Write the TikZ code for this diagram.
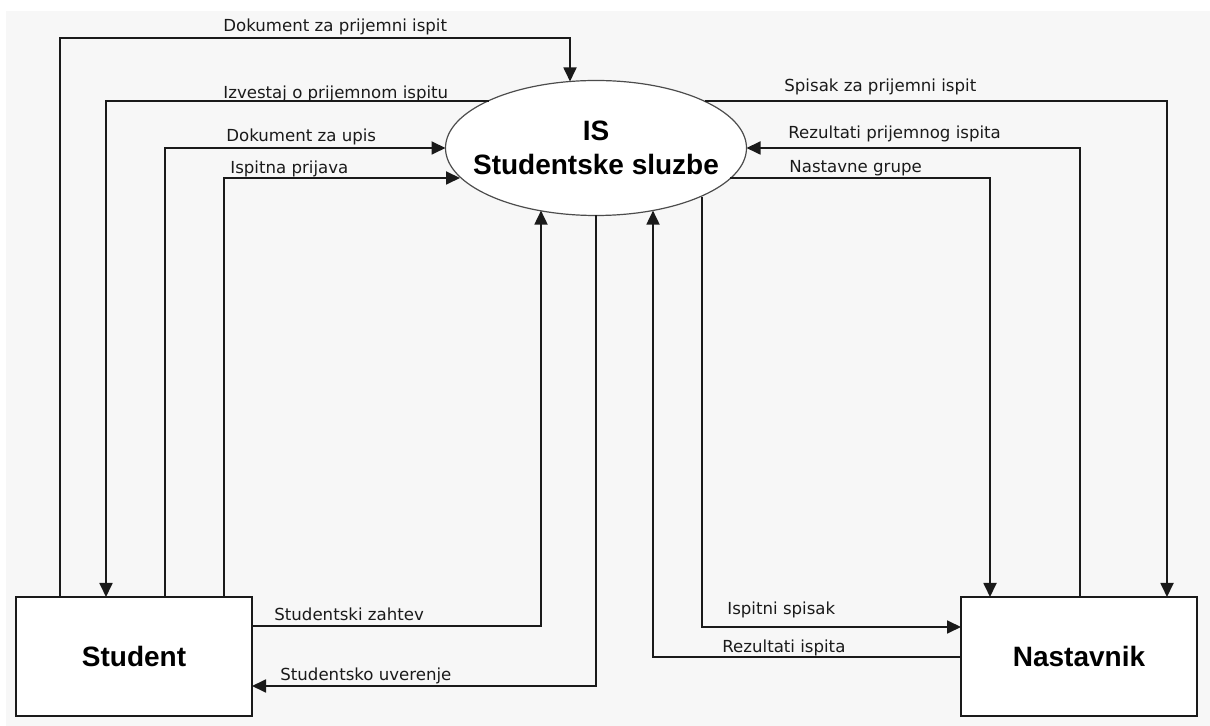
\documentclass[tikz,border=0pt]{standalone}
\usepackage{fontspec}
\setmainfont{DejaVu Sans}
\newfontfamily\headfont{Liberation Sans}
\usetikzlibrary{shapes.geometric,arrows.meta}
\definecolor{canvasgray}{HTML}{F7F7F7}
\definecolor{ink}{HTML}{1A1A1A}
\begin{document}
\begin{tikzpicture}[x=0.5pt,y=-0.5pt,
  flow/.style={draw=ink, line width=0.9pt, -{Triangle[length=7pt,width=6.5pt]}},
  lbl/.style={anchor=base west, inner sep=0pt, font=\fontsize{8.3}{10}\selectfont, text=ink},
  entity/.style={draw=ink, line width=0.9pt, fill=white, minimum width=118pt, minimum height=59.5pt,
    inner sep=0pt, outer sep=0pt, font=\headfont\bfseries\fontsize{14}{17}\selectfont},
  process/.style={ellipse, draw=black!70, line width=0.6pt, fill=white, minimum width=150.5pt,
    minimum height=67.5pt, inner xsep=-12pt, inner ysep=0pt, outer sep=0pt, align=center,
    font=\headfont\bfseries\fontsize{14}{17}\selectfont}]

% canvas
\fill[white] (0,0) rectangle (1210,726);
\fill[canvasgray] (6,11) rectangle (1210,726);

% process and external entities
\node[process] (is) at (596,148) {IS\\Studentske sluzbe};
\node[entity] (stu) at (134,656.5) {Student};
\node[entity] (nas) at (1079,656.5) {Nastavnik};

% flows between Student and the system
\draw[flow] (stu.north -| 60,0) -- (60,38) -| (is.111.8 -| 570,0);
\draw[flow] (is.156.9 |- 0,101) -| (stu.north -| 106,0);
\draw[flow] (stu.north -| 165,0) |- (is.west);
\draw[flow] (stu.north -| 224,0) |- (is.192.8 |- 0,178);
\draw[flow] (stu.east |- 0,626) -| (is.228.5 -| 541,0);
\draw[flow] (is.south) |- (stu.east |- 0,686);

% flows between Nastavnik and the system
\draw[flow] (is.23.1 |- 0,101) -| (nas.north -| 1167,0);
\draw[flow] (nas.north -| 1080,0) |- (is.east);
\draw[flow] (is.347.2 |- 0,178) -| (nas.north -| 990,0);
\draw[flow] (is.335.5 -| 702,0) |- (nas.west |- 0,627);
\draw[flow] (nas.west |- 0,657) -| (is.312.1 -| 653,0);

% flow labels
\node[lbl] (t1) at (223,32) {Dokument za prijemni ispit};
\node[lbl] (t2) at (223,99) {Izvestaj o prijemnom ispitu};
\node[lbl] (t3) at (226,142) {Dokument za upis};
\node[lbl] (t4) at (230,174) {Ispitna prijava};
\node[lbl] (t5) at (274,621) {Studentski zahtev};
\node[lbl] (t6) at (280,680) {Studentsko uverenje};
\node[lbl] (t7) at (784,92) {Spisak za prijemni ispit};
\node[lbl] (t8) at (788,139) {Rezultati prijemnog ispita};
\node[lbl] (t9) at (789,173) {Nastavne grupe};
\node[lbl] (t10) at (727,615) {Ispitni spisak};
\node[lbl] (t11) at (722,653) {Rezultati ispita};
\end{tikzpicture}
\end{document}
